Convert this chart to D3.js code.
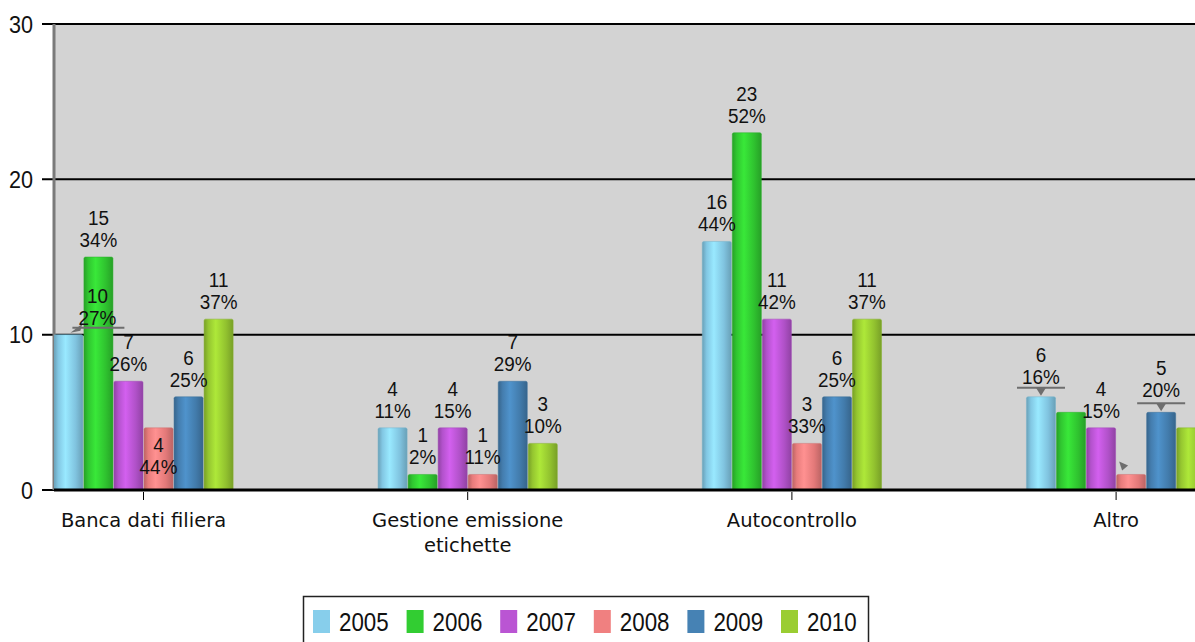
<!DOCTYPE html>
<html>
<head>
<meta charset="utf-8">
<script src="https://cdn.jsdelivr.net/npm/d3@7"></script>
<style>
  html, body { margin: 0; padding: 0; background: #ffffff; overflow: hidden; }
  svg { display: block; }
</style>
</head>
<body>
<svg id="chart" width="1195" height="642"></svg>
<script>
// ---------------- data ----------------
const categories = ["Banca dati filiera", "Gestione emissione etichette", "Autocontrollo", "Altro"];
const years = ["2005", "2006", "2007", "2008", "2009", "2010"];
const v2005 = [10, 4, 16, 6];
const v2006 = [15, 1, 23, 5];
const v2007 = [7, 4, 11, 4];
const v2008 = [4, 1, 3, 1];
const v2009 = [6, 7, 6, 5];
const v2010 = [11, 3, 11, 4];
const yTicks = [0, 10, 20, 30];

const seriesValues = [v2005, v2006, v2007, v2008, v2009, v2010];
const palette = ["#87CEEB", "#32CD32", "#BA55D3", "#F08080", "#4682B4", "#9ACD32"];

// label placement tweaks (smart-label look of the original)
const labelTweaks = {
  "0|2005": { dx: 29, dy: 0, leader: "left" },
  "0|2008": { dx: 0, dy: 56 },
  "3|2005": { dx: 0, dy: -3, leader: "down" },
  "3|2009": { dx: 0, dy: -5, leader: "down" },
  "3|2006": { hidden: true },
  "3|2008": { hidden: true, arrowOnly: true },
  "3|2010": { hidden: true }
};

// ---------------- layout ----------------
const W = 1195, H = 642;
const plot = { left: 54, right: 1195, top: 24, bottom: 490 };

const svg = d3.select("#chart");
const defs = svg.append("defs");

const y = d3.scaleLinear().domain([0, 30]).range([plot.bottom, plot.top]);
const step = 324.2;
const x0 = d3.scaleBand()
  .domain(categories)
  .range([143.5 - step / 2, 143.5 - step / 2 + step * categories.length])
  .paddingInner(0.444)
  .paddingOuter(0.222);
const x1 = d3.scaleBand().domain(years).range([0, x0.bandwidth()]).padding(0);

// gradients for cylinder look
palette.forEach((c, i) => {
  const base = d3.color(c);
  const g = defs.append("linearGradient").attr("id", "grad" + i)
    .attr("x1", "0%").attr("x2", "100%").attr("y1", "0%").attr("y2", "0%");
  g.append("stop").attr("offset", "0%").attr("stop-color", base.darker(0.7));
  g.append("stop").attr("offset", "15%").attr("stop-color", base.darker(0.1));
  g.append("stop").attr("offset", "40%").attr("stop-color", base.brighter(0.35));
  g.append("stop").attr("offset", "75%").attr("stop-color", base.darker(0.15));
  g.append("stop").attr("offset", "100%").attr("stop-color", base.darker(0.7));
});

defs.append("clipPath").attr("id", "plotClip")
  .append("rect").attr("x", plot.left).attr("y", 0)
  .attr("width", plot.right - plot.left).attr("height", plot.bottom + 2);

// plot background
svg.append("rect")
  .attr("x", plot.left).attr("y", plot.top)
  .attr("width", plot.right - plot.left).attr("height", plot.bottom - plot.top)
  .attr("fill", "#D3D3D3");

// gridlines + y axis
const yAxis = d3.axisLeft(y).tickValues(yTicks).tickSize(0).tickFormat("");
const yg = svg.append("g").attr("transform", `translate(${plot.left},0)`).call(yAxis);
yg.select(".domain").remove();

svg.append("g").selectAll("line.grid")
  .data(yTicks.filter(t => t > 0))
  .join("line")
  .attr("x1", 42).attr("x2", plot.right)
  .attr("y1", d => y(d)).attr("y2", d => y(d))
  .attr("stroke", "#000").attr("stroke-width", 2);

svg.append("line")
  .attr("x1", 42).attr("x2", plot.left)
  .attr("y1", y(0)).attr("y2", y(0))
  .attr("stroke", "#000").attr("stroke-width", 2);

function sText(g, x, yy, s, size, sx, family, anchor) {
  return g.append("text")
    .attr("transform", `translate(${x},${yy}) scale(${sx},1)`)
    .attr("text-anchor", anchor || "middle")
    .style("font-family", family)
    .style("font-size", size + "px")
    .attr("fill", "#111")
    .text(s);
}

const tickG = svg.append("g");
yTicks.forEach(t => sText(tickG, 33, y(t) + 8.5, String(t), 23, 0.94, "'Liberation Sans', Arial, sans-serif", "end"));

// left axis line (grey)
svg.append("line")
  .attr("x1", plot.left).attr("x2", plot.left)
  .attr("y1", plot.top).attr("y2", plot.bottom)
  .attr("stroke", "#7a7a7a").attr("stroke-width", 3);

// bars
const barsG = svg.append("g").attr("clip-path", "url(#plotClip)");
categories.forEach((cat, ci) => {
  const g = barsG.append("g").attr("transform", `translate(${x0(cat)},0)`);
  g.selectAll("rect")
    .data(years.map((yr, si) => ({ yr, si, v: seriesValues[si][ci] })))
    .join("rect")
    .attr("x", d => x1(d.yr) + 0.5)
    .attr("y", d => y(d.v))
    .attr("width", x1.bandwidth() - 1)
    .attr("height", d => y(0) - y(d.v))
    .attr("rx", 1.5)
    .attr("fill", d => `url(#grad${d.si})`)
    .attr("stroke", d => d3.color(palette[d.si]).darker(0.4))
    .attr("stroke-opacity", 0.5)
    .attr("stroke-width", 1);
});

// bottom axis line
svg.append("line")
  .attr("x1", plot.left).attr("x2", plot.right)
  .attr("y1", plot.bottom).attr("y2", plot.bottom)
  .attr("stroke", "#000").attr("stroke-width", 3);

// category ticks
categories.forEach(cat => {
  const cx = x0(cat) + x0.bandwidth() / 2;
  if (cx < W) {
    svg.append("line").attr("x1", cx).attr("x2", cx)
      .attr("y1", plot.bottom + 2).attr("y2", plot.bottom + 10)
      .attr("stroke", "#000").attr("stroke-width", 1);
  }
});

// category labels (wrapped)
const catG = svg.append("g");
categories.forEach(cat => {
  const cx = x0(cat) + x0.bandwidth() / 2;
  const words = cat.split(" ");
  const lines = [];
  let cur = "";
  const measure = catG.append("text").style("font-family", "'DejaVu Sans', sans-serif").style("font-size", "19.5px");
  words.forEach(w => {
    const test = cur ? cur + " " + w : w;
    measure.text(test);
    if (measure.node().getComputedTextLength() > 230 && cur) { lines.push(cur); cur = w; }
    else cur = test;
  });
  lines.push(cur);
  measure.remove();
  lines.forEach((ln, i) => sText(catG, cx, 527 + i * 25, ln, 19.5, 1, "'DejaVu Sans', sans-serif", "middle"));
});

// data labels
const totals = years.map((yr, si) => d3.sum(seriesValues[si]));
const labG = svg.append("g");
const leaderColor = "#6e6e6e";
categories.forEach((cat, ci) => {
  years.forEach((yr, si) => {
    const v = seriesValues[si][ci];
    const pct = Math.floor(v / totals[si] * 100) + "%";
    const bx = x0(cat) + x1(yr) + x1.bandwidth() / 2;
    const top = y(v);
    const tw = labelTweaks[ci + "|" + yr] || {};
    if (tw.arrowOnly) {
      labG.append("path")
        .attr("d", `M${bx - 12},${top - 13} L${bx - 3},${top - 9} L${bx - 9},${top - 4} Z`)
        .attr("fill", leaderColor);
    }
    if (tw.hidden) return;
    const lx = bx + (tw.dx || 0);
    const dy = tw.dy || 0;
    if (lx > W + 20) return;
    if (tw.leader === "left") {
      const ly = top - 7;
      labG.append("line").attr("x1", bx + 4).attr("x2", lx + 27)
        .attr("y1", ly).attr("y2", ly).attr("stroke", leaderColor).attr("stroke-width", 2);
      labG.append("path")
        .attr("d", `M${bx + 2},${top - 2} L${bx + 14},${ly - 4} L${bx + 12},${ly + 3} Z`)
        .attr("fill", leaderColor);
    } else if (tw.leader === "down") {
      const ly = top - 9;
      labG.append("line").attr("x1", bx - 24).attr("x2", bx + 24)
        .attr("y1", ly).attr("y2", ly).attr("stroke", leaderColor).attr("stroke-width", 2);
      labG.append("path")
        .attr("d", `M${bx - 5},${ly} L${bx + 5},${ly} L${bx},${top - 1} Z`)
        .attr("fill", leaderColor);
    }
    sText(labG, lx, top - 32 + dy, String(v), 21, 0.9, "'Liberation Sans', Arial, sans-serif", "middle");
    sText(labG, lx, top - 10 + dy, pct, 21, 0.9, "'Liberation Sans', Arial, sans-serif", "middle");
  });
});

// legend
const legG = svg.append("g");
legG.append("rect")
  .attr("x", 303.5).attr("y", 596.5).attr("width", 565).attr("height", 60)
  .attr("fill", "#fff").attr("stroke", "#222").attr("stroke-width", 1.5);
years.forEach((yr, i) => {
  const lx = 313 + i * 93.6;
  legG.append("rect").attr("x", lx).attr("y", 610).attr("width", 17).attr("height", 23)
    .attr("fill", palette[i]);
  sText(legG, lx + 26, 631, yr, 26, 0.86, "'Liberation Sans', Arial, sans-serif", "start");
});
</script>
</body>
</html>
